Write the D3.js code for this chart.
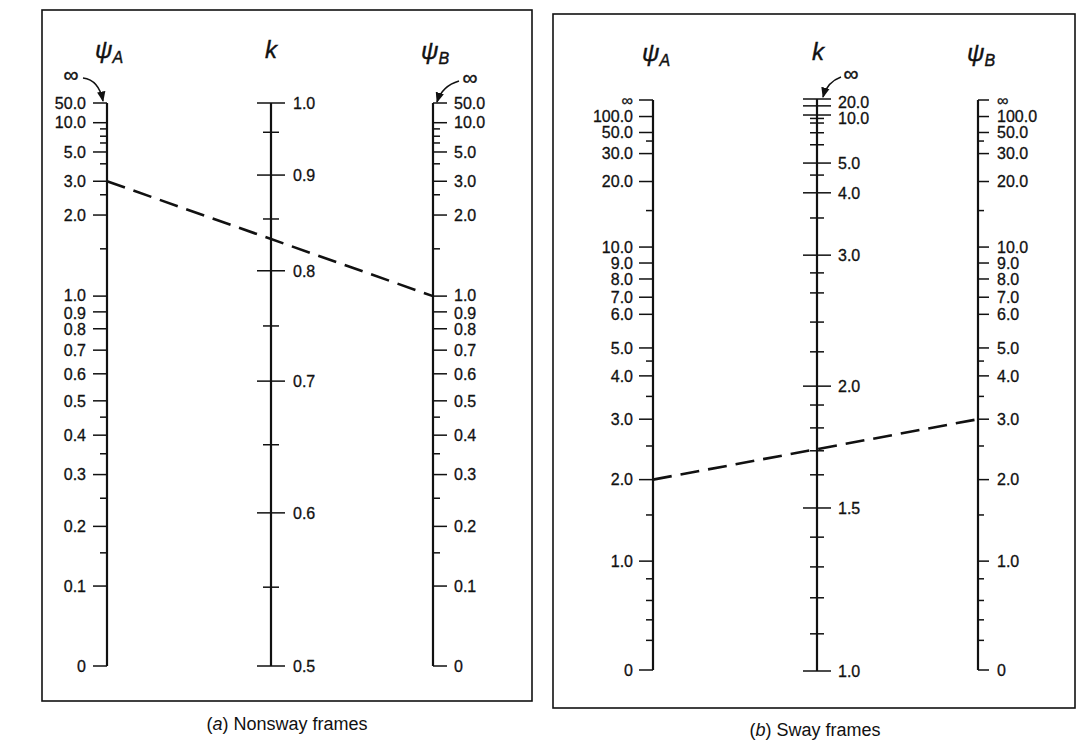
<!DOCTYPE html>
<html><head><meta charset="utf-8">
<script src="https://cdn.jsdelivr.net/npm/d3@7"></script>
<style>
body{margin:0;background:#fff}
svg{display:block}
text{font-family:"Liberation Sans",Arial,Helvetica,sans-serif;fill:#111}
</style>
</head><body><svg id="c" width="1079" height="744"></svg>
<script>
// ---------------- data ----------------
const psiNonswayLabeled = [0, 0.1, 0.2, 0.3, 0.4, 0.5, 0.6, 0.7, 0.8, 0.9, 1.0, 2.0, 3.0, 5.0, 10.0, 50.0];
const psiNonswayMinor   = [0.15, 0.25, 0.35, 0.45, 1.5, 2.5, 4.0, 6.0, 7.0, 8.0];
const kNonswayLabeled   = [0.5, 0.6, 0.7, 0.8, 0.9, 1.0];
const kNonswayMinor     = [0.55, 0.65, 0.75, 0.85, 0.95];
const psiSwayLabeled    = [0, 1.0, 2.0, 3.0, 4.0, 5.0, 6.0, 7.0, 8.0, 9.0, 10.0, 20.0, 30.0, 50.0, 100.0, Infinity];
const psiSwayMinor      = [0.2, 0.4, 0.6, 0.8, 1.5, 2.5, 3.5, 4.5, 15, 40];
const kSwayLabeled      = [1.0, 1.5, 2.0, 3.0, 4.0, 5.0, 10.0, 20.0];
const kSwayMajorPlain   = [Infinity];
const kSwayMinor        = [1.1, 1.2, 1.3, 1.4, 1.6, 1.7, 1.8, 1.9, 2.2, 2.4, 2.6, 2.8, 3.5, 4.5, 6, 7, 8, 9];
const exampleNonsway    = [3.0, 1.0];   // [psiA, psiB]
const exampleSway       = [2.0, 3.0];   // [psiA, psiB]

// -------- nomograph scale calibrations (value -> fraction of axis length) --------
const INF = 1e6;
const calPsiNonswayV = [0, 0.1, 0.15, 0.2, 0.25, 0.3, 0.35, 0.4, 0.45, 0.5, 0.6, 0.7, 0.8, 0.9, 1, 1.5, 2, 2.5, 3, 4, 5, 6, 7, 8, 10, 50];
const calPsiNonswayF = [0, .142, .201, .248, .298, .340, .377, .410, .442, .471, .519, .561, .599, .629, .657, .741, .801, .837, .861, .892, .913, .929, .941, .954, .965, 1];
const calKNonswayV = [0.5, 0.55, 0.6, 0.65, 0.7, 0.75, 0.8, 0.85, 0.9, 0.95, 1.0];
const calKNonswayF = [0, .140, .272, .393, .506, .604, .702, .794, .872, .948, 1];
const calPsiSwayV = [0, .2, .4, .6, .8, 1, 1.5, 2, 2.5, 3, 3.5, 4, 4.5, 5, 6, 7, 8, 9, 10, 15, 20, 30, 40, 50, 100, INF];
const calPsiSwayF = [0, .052, .088, .122, .160, .191, .272, .334, .393, .440, .480, .516, .542, .565, .624, .654, .686, .714, .742, .806, .857, .906, .928, .943, .971, 1];
const calKSwayV = [1, 1.1, 1.2, 1.3, 1.4, 1.5, 1.6, 1.7, 1.8, 1.9, 2, 2.2, 2.4, 2.6, 2.8, 3, 3.5, 4, 4.5, 5, 6, 7, 8, 9, 10, 20, INF];
const calKSwayF = [0, .065, .128, .182, .234, .285, .343, .385, .425, .465, .498, .558, .610, .661, .696, .727, .792, .836, .867, .888, .920, .941, .958, .966, .972, .988, 1];

function makeScale(vals, fracs, top, bot) {
  const s = d3.scaleLinear().domain(vals).range(fracs.map(f => bot - f * (bot - top)));
  return v => s(isFinite(v) ? v : INF);
}
const fmt = v => v === 0 ? "0" : (!isFinite(v) ? "\u221e" : v.toFixed(1));

const svg = d3.select("#c");
const defs = svg.append("defs");
defs.append("marker").attr("id", "ah").attr("viewBox", "0 0 10 10").attr("refX", 9).attr("refY", 5)
  .attr("markerWidth", 7).attr("markerHeight", 7).attr("orient", "auto")
  .append("path").attr("d", "M0,1 L10,5 L0,9 Z").attr("fill", "#111");

function drawAxis(parent, x, scale, top, bot, labeled, plain, minor, o) {
  const g = parent.append("g");
  g.append("line").attr("x1", x).attr("x2", x).attr("y1", top).attr("y2", bot)
    .attr("stroke", "#111").attr("stroke-width", 2.2);
  const tick = (v, len) => {
    const y = scale(v);
    let x1, x2;
    if (o.side === "left") { x1 = x - len; x2 = x; }
    else if (o.side === "right") { x1 = x; x2 = x + len; }
    else { x1 = x - len; x2 = x + len; }
    g.append("line").attr("x1", x1).attr("x2", x2).attr("y1", y).attr("y2", y)
      .attr("stroke", "#111").attr("stroke-width", 1.5);
  };
  labeled.concat(plain).forEach(v => tick(v, o.major));
  minor.forEach(v => tick(v, o.minor));
  g.selectAll("text.tl").data(labeled).join("text").attr("class", "tl")
    .attr("x", o.side === "left" ? x - o.labelGap : x + o.labelGap)
    .attr("y", v => scale(v) + (o.labelShift && o.labelShift[v] || 0))
    .attr("dy", "0.36em")
    .attr("text-anchor", o.side === "left" ? "end" : "start")
    .attr("font-size", 16)
    .attr("stroke", "#111").attr("stroke-width", 0.3)
    .text(fmt);
}

function title(g, x, y, main, sub) {
  const t = g.append("text").attr("x", x).attr("y", y).attr("text-anchor", "middle")
    .attr("font-style", "italic").attr("font-size", 24)
    .attr("stroke", "#111").attr("stroke-width", 0.4).text(main);
  if (sub) t.append("tspan").attr("font-size", 16).attr("dy", 5).text(sub);
}

function infArrow(g, tx, ty, path) {
  g.append("text").attr("x", tx).attr("y", ty).attr("dy", "0.35em").attr("text-anchor", "middle")
    .attr("font-size", 21).attr("stroke", "#111").attr("stroke-width", 0.4).text("\u221e");
  g.append("path").attr("d", path).attr("fill", "none").attr("stroke", "#111")
    .attr("stroke-width", 1.5).attr("marker-end", "url(#ah)");
}

const nonswayShift = {1: -1, 0.9: 1};

// ---------------- panel (a): nonsway ----------------
{
  const g = svg.append("g");
  const top = 103, bot = 666, xA = 107, xK = 271, xB = 433;
  g.append("rect").attr("x", 42).attr("y", 10).attr("width", 490).attr("height", 691)
    .attr("fill", "none").attr("stroke", "#111").attr("stroke-width", 1.6);
  const sPsi = makeScale(calPsiNonswayV, calPsiNonswayF, top, bot);
  const sK = makeScale(calKNonswayV, calKNonswayF, top, bot);
  drawAxis(g, xA, sPsi, top, bot, psiNonswayLabeled, [], psiNonswayMinor, {side: "left", major: 14, minor: 7, labelGap: 21, labelShift: nonswayShift});
  drawAxis(g, xK, sK, top, bot, kNonswayLabeled, [], kNonswayMinor, {side: "cross", major: 14, minor: 8, labelGap: 22});
  drawAxis(g, xB, sPsi, top, bot, psiNonswayLabeled, [], psiNonswayMinor, {side: "right", major: 14, minor: 7, labelGap: 21, labelShift: nonswayShift});
  title(g, xA + 2, 58, "\u03c8", "A");
  title(g, xK, 58, "k", null);
  title(g, xB + 2, 59, "\u03c8", "B");
  infArrow(g, 71, 75, `M83,78 Q99,80 103,${top - 2}`);
  infArrow(g, 470, 78, `M459,81 Q442,86 437,${top - 1}`);
  g.append("line").attr("x1", xA).attr("y1", sPsi(exampleNonsway[0]))
    .attr("x2", xB).attr("y2", sPsi(exampleNonsway[1]))
    .attr("stroke", "#111").attr("stroke-width", 2.6).attr("stroke-dasharray", "19,9");
  const cap = g.append("text").attr("x", 287).attr("y", 730).attr("text-anchor", "middle").attr("font-size", 18);
  cap.append("tspan").text("(");
  cap.append("tspan").attr("font-style", "italic").text("a");
  cap.append("tspan").text(") Nonsway frames");
}

// ---------------- panel (b): sway ----------------
{
  const g = svg.append("g");
  const top = 100, bot = 670, xA = 653, xK = 817, xB = 978;
  g.append("rect").attr("x", 553).attr("y", 14).attr("width", 522).attr("height", 694)
    .attr("fill", "none").attr("stroke", "#111").attr("stroke-width", 1.6);
  const sPsi = makeScale(calPsiSwayV, calPsiSwayF, top, bot);
  const sK = makeScale(calKSwayV, calKSwayF, top - 1, bot + 1);
  drawAxis(g, xA, sPsi, top, bot, psiSwayLabeled, [], psiSwayMinor, {side: "left", major: 14, minor: 7, labelGap: 20});
  drawAxis(g, xK, sK, top - 1, bot + 1, kSwayLabeled, kSwayMajorPlain, kSwayMinor,
    {side: "cross", major: 14, minor: 7, labelGap: 21, labelShift: {20: -4, 10: 3}});
  drawAxis(g, xB, sPsi, top, bot, psiSwayLabeled, [], psiSwayMinor, {side: "right", major: 11, minor: 6, labelGap: 19});
  title(g, xA + 3, 61, "\u03c8", "A");
  title(g, xK + 1, 60, "k", null);
  title(g, xB + 3, 61, "\u03c8", "B");
  infArrow(g, 851, 74, `M841,77 Q827,82 823,${top - 3}`);
  g.append("line").attr("x1", xA).attr("y1", sPsi(exampleSway[0]))
    .attr("x2", xB).attr("y2", sPsi(exampleSway[1]))
    .attr("stroke", "#111").attr("stroke-width", 2.6).attr("stroke-dasharray", "19,9");
  const cap = g.append("text").attr("x", 815).attr("y", 736).attr("text-anchor", "middle").attr("font-size", 18);
  cap.append("tspan").text("(");
  cap.append("tspan").attr("font-style", "italic").text("b");
  cap.append("tspan").text(") Sway frames");
}
</script>
</body></html>
